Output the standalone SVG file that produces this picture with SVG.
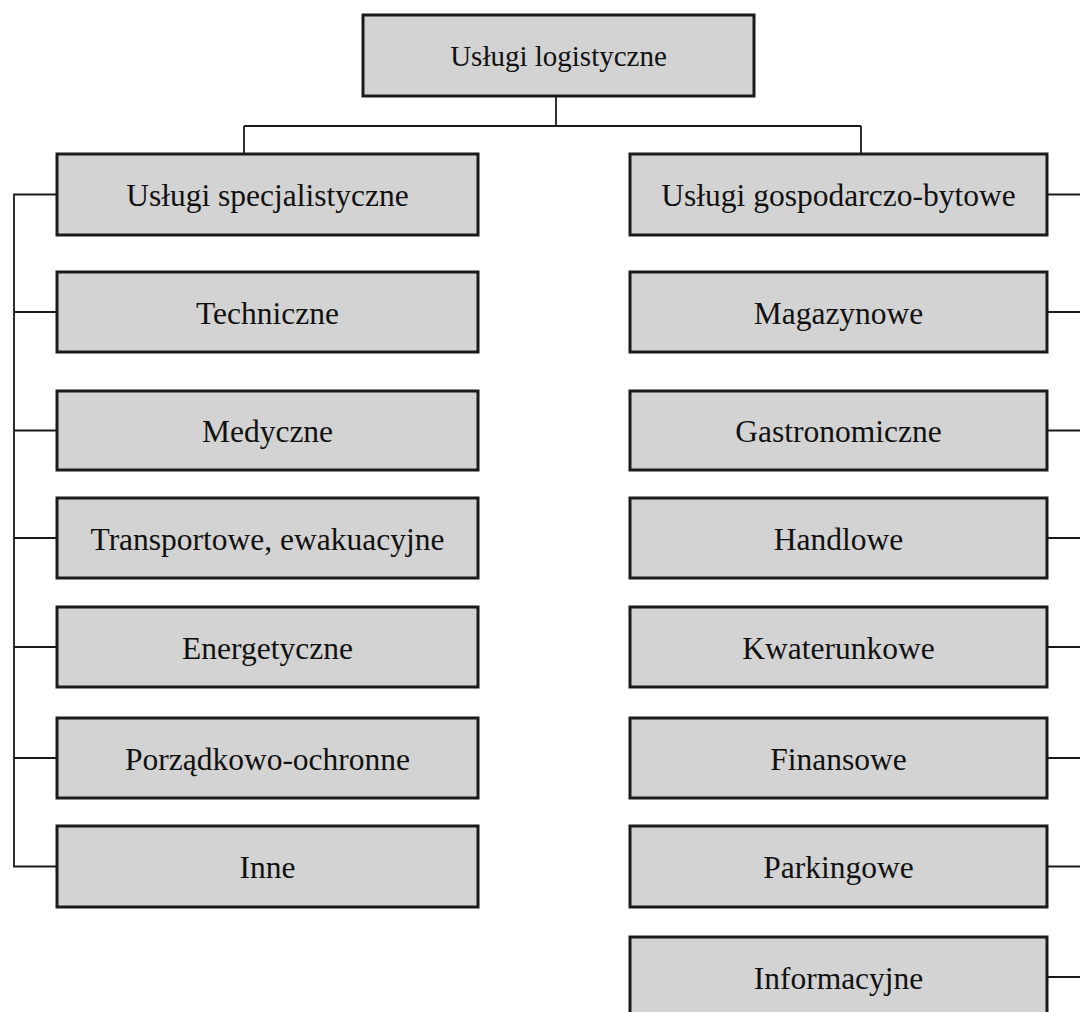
<svg xmlns="http://www.w3.org/2000/svg" width="1080" height="1012" viewBox="0 0 1080 1012">
<style>
.box{fill:#d3d3d3;stroke:#1a1a1a;stroke-width:3}
.lbl{font-family:"Liberation Serif","Times New Roman",serif;font-size:31.5px;fill:#111;text-anchor:middle}
.con{fill:none;stroke:#1a1a1a;stroke-width:1.8}
</style>
<rect width="1080" height="1012" fill="#ffffff"/>
<g id="connectors">
<path class="con" d="M556,96V126M244,126H861M244,126V154M861,126V153"/>
<path class="con" d="M57,194.5H14V866.5H57M14,312H57M14,430.5H57M14,538H57M14,647H57M14,758H57"/>
<path class="con" d="M1047,194.5H1080M1047,312H1080M1047,430.5H1080M1047,538H1080M1047,647H1080M1047,758H1080M1047,866.5H1080M1047,977H1080"/>
</g>
<g id="n-root"><rect class="box" x="363" y="15" width="391" height="81"/><text class="lbl" x="558.5" y="65.5" style="font-size:29px">Usługi logistyczne</text></g>
<g id="n-spec"><rect class="box" x="57" y="154" width="421" height="81"/><text class="lbl" x="267.5" y="206">Usługi specjalistyczne</text></g>
<g id="n-tech"><rect class="box" x="57" y="272" width="421" height="80"/><text class="lbl" x="267.5" y="323.5">Techniczne</text></g>
<g id="n-med"><rect class="box" x="57" y="391" width="421" height="79"/><text class="lbl" x="267.5" y="442">Medyczne</text></g>
<g id="n-trans"><rect class="box" x="57" y="498" width="421" height="80"/><text class="lbl" x="267.5" y="549.5">Transportowe, ewakuacyjne</text></g>
<g id="n-ener"><rect class="box" x="57" y="607" width="421" height="80"/><text class="lbl" x="267.5" y="658.5">Energetyczne</text></g>
<g id="n-porz"><rect class="box" x="57" y="718" width="421" height="80"/><text class="lbl" x="267.5" y="769.5">Porządkowo-ochronne</text></g>
<g id="n-inne"><rect class="box" x="57" y="826" width="421" height="81"/><text class="lbl" x="267.5" y="878">Inne</text></g>
<g id="n-gosp"><rect class="box" x="630" y="154" width="417" height="81"/><text class="lbl" x="838.5" y="206">Usługi gospodarczo-bytowe</text></g>
<g id="n-mag"><rect class="box" x="630" y="272" width="417" height="80"/><text class="lbl" x="838.5" y="323.5">Magazynowe</text></g>
<g id="n-gastr"><rect class="box" x="630" y="391" width="417" height="79"/><text class="lbl" x="838.5" y="442">Gastronomiczne</text></g>
<g id="n-handl"><rect class="box" x="630" y="498" width="417" height="80"/><text class="lbl" x="838.5" y="549.5">Handlowe</text></g>
<g id="n-kwat"><rect class="box" x="630" y="607" width="417" height="80"/><text class="lbl" x="838.5" y="658.5">Kwaterunkowe</text></g>
<g id="n-fin"><rect class="box" x="630" y="718" width="417" height="80"/><text class="lbl" x="838.5" y="769.5">Finansowe</text></g>
<g id="n-park"><rect class="box" x="630" y="826" width="417" height="81"/><text class="lbl" x="838.5" y="878">Parkingowe</text></g>
<g id="n-info"><rect class="box" x="630" y="937" width="417" height="81"/><text class="lbl" x="838.5" y="988.5">Informacyjne</text></g>
</svg>
